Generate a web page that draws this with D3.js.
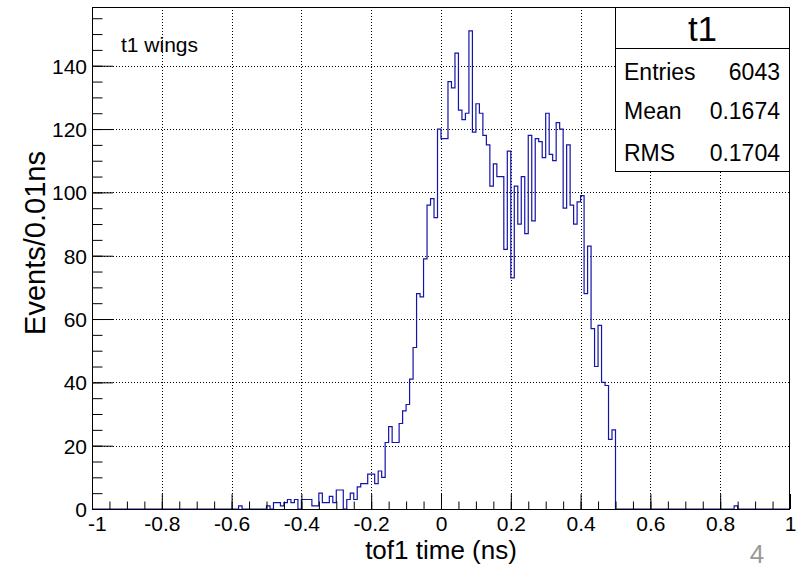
<!DOCTYPE html>
<html><head><meta charset="utf-8">
<script src="https://cdn.jsdelivr.net/npm/d3@7"></script>
<style>
body{margin:0;background:#fff}
svg{display:block}
text{font-family:"Liberation Sans",Arial,Helvetica,sans-serif;fill:#000}
</style>
</head><body>
<svg id="c" width="802" height="568"></svg>
<script>
// ---------- data ----------
const histName = "t1";
const histTitle = "t1 wings";
const xLabel = "tof1 time (ns)";
const yLabel = "Events/0.01ns";
const xDomain = [-1, 1];
const binWidth = 0.01;
const firstBinLow = -0.60;           // counts below start at this bin edge
const counts = [
  0,0,1,0,0,0,0,0,0,0,            // -0.60 .. -0.51
  1,0,2,2,1,2,3,2,3,0,            // -0.50 .. -0.41
  3,3,3,1,1,5,2,2,4,2,            // -0.40 .. -0.31
  6,6,0,3,5,3,7,8,8,11,           // -0.30 .. -0.21
  11,8,12,10,21,26,21,21,27,31,   // -0.20 .. -0.11
  33,41,51,68,67,79,96,98,92,120, // -0.10 .. -0.01
  117,117,135,133,144,126,123,125,151,119, // 0.00 .. 0.09
  128,125,118,115,102,109,105,105,82,113,  // 0.10 .. 0.19
  73,102,90,105,87,118,91,117,116,111,     // 0.20 .. 0.29
  125,112,110,122,120,95,115,96,90,97,     // 0.30 .. 0.39
  99,68,83,57,45,58,40,39,22,25            // 0.40 .. 0.49
];
const extraBinLows = [0.84];
const extraBinCounts = [1];
const statsLabels = ["Entries", "Mean", "RMS"];
const statsValues = ["6043", "0.1674", "0.1704"];
const xTickValues = [-1, -0.8, -0.6, -0.4, -0.2, 0, 0.2, 0.4, 0.6, 0.8, 1];
const xTickLabels = ["-1", "-0.8", "-0.6", "-0.4", "-0.2", "0", "0.2", "0.4", "0.6", "0.8", "1"];
const yTickValues = [0, 20, 40, 60, 80, 100, 120, 140];
const yMax = 158.55;
const pageNumber = "4";

// ---------- build bins ----------
const nBins = Math.round((xDomain[1] - xDomain[0]) / binWidth);
const binCounts = new Array(nBins).fill(0);
const k0 = Math.round((firstBinLow - xDomain[0]) / binWidth);
counts.forEach((c, i) => { binCounts[k0 + i] = c; });
extraBinLows.forEach((lo, i) => { binCounts[Math.round((lo - xDomain[0]) / binWidth)] = extraBinCounts[i]; });

// ---------- layout ----------
const L = 92, R = 790, T = 7, B = 509;
const svg = d3.select("#c");
const x = d3.scaleLinear().domain(xDomain).range([L, R]);
const y = d3.scaleLinear().domain([0, yMax]).range([B, T]);

// grid
const grid = svg.append("g").attr("stroke", "#000").attr("stroke-width", 1).attr("stroke-dasharray", "1,2");
xTickValues.slice(1, -1).forEach(v => {
  grid.append("line").attr("x1", Math.round(x(v)) + 0.5).attr("x2", Math.round(x(v)) + 0.5).attr("y1", T).attr("y2", B);
});
yTickValues.slice(1).forEach(v => {
  grid.append("line").attr("y1", Math.round(y(v)) + 0.5).attr("y2", Math.round(y(v)) + 0.5).attr("x1", L).attr("x2", R);
});

// histogram outline
const pts = [[x(xDomain[0]), y(0)]];
binCounts.forEach((c, i) => {
  const lo = xDomain[0] + i * binWidth, hi = lo + binWidth;
  pts.push([x(lo), y(c)], [x(hi), y(c)]);
});
pts.push([x(xDomain[1]), y(0)]);
svg.append("path").attr("d", d3.line()(pts)).attr("fill", "none")
  .attr("stroke", "#1414a8").attr("stroke-width", 1.2);

// axes
const xMinor = d3.range(-1, 1.0001, 0.05).map(v => +v.toFixed(2));
const yMinor = d3.range(0, yMax, 5);
const axX = svg.append("g").attr("transform", `translate(0,${B})`)
  .call(d3.axisBottom(x).tickValues(xTickValues).tickSize(-15).tickPadding(3)
    .tickFormat((d, i) => xTickLabels[i]));
const axXm = svg.append("g").attr("transform", `translate(0,${B})`)
  .call(d3.axisBottom(x).tickValues(xMinor).tickSize(-7.5).tickFormat(""));
const axY = svg.append("g").attr("transform", `translate(${L},0)`)
  .call(d3.axisLeft(y).tickValues(yTickValues).tickSize(-21).tickPadding(5));
const axYm = svg.append("g").attr("transform", `translate(${L},0)`)
  .call(d3.axisLeft(y).tickValues(yMinor).tickSize(-10.5).tickFormat(""));
[axX, axXm, axY, axYm].forEach(a => {
  a.select(".domain").remove();
  a.selectAll(".tick line").attr("stroke", "#000");
  a.selectAll("text").attr("font-size", 21).attr("font-family", "Liberation Sans, Arial, sans-serif").attr("fill", "#000");
});
axX.selectAll("text").attr("dy", "0.9em");
// first x label sits just right of the y-axis "0" label
axX.selectAll("text").filter((d, i) => i === 0).attr("text-anchor", "start").attr("x", -4.5);
axY.selectAll("text").attr("dy", "0.35em");

// frame
svg.append("rect").attr("x", L + 0.5).attr("y", T + 0.5).attr("width", R - L - 1).attr("height", B - T)
  .attr("fill", "none").attr("stroke", "#000");

// axis titles
svg.append("text").attr("x", 441).attr("y", 559).attr("text-anchor", "middle").attr("font-size", 26).text(xLabel);
svg.append("text").attr("transform", "translate(45,243) rotate(-90)").attr("text-anchor", "middle").attr("font-size", 29).text(yLabel);

// histogram title
svg.append("text").attr("x", 121).attr("y", 52).attr("font-size", 21).text(histTitle);

// stats box
const sx = 615.5, sy = 7.5, sw = 174, sh = 164, sep = 48.5;
svg.append("rect").attr("x", sx).attr("y", sy).attr("width", sw).attr("height", sh).attr("fill", "#fff").attr("stroke", "#000");
svg.append("line").attr("x1", sx).attr("x2", sx + sw).attr("y1", sep).attr("y2", sep).attr("stroke", "#000");
svg.append("text").attr("x", sx + sw / 2).attr("y", 41).attr("text-anchor", "middle").attr("font-size", 35).text(histName);
const rowY = [80, 119, 161];
statsLabels.forEach((lab, i) => {
  svg.append("text").attr("x", 624).attr("y", rowY[i]).attr("font-size", 23).text(lab);
  svg.append("text").attr("x", 780).attr("y", rowY[i]).attr("text-anchor", "end").attr("font-size", 23).text(statsValues[i]);
});

// page number
svg.append("text").attr("x", 757).attr("y", 563).attr("text-anchor", "middle").attr("font-size", 26)
  .style("fill", "#999").text(pageNumber);
</script>
</body></html>
